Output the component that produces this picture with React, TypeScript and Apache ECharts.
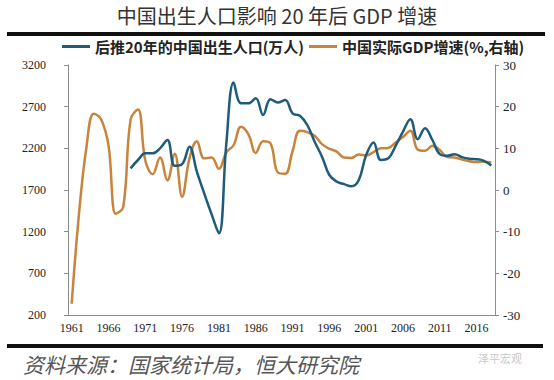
import React, { useEffect, useRef } from "react";
import * as echarts from "echarts";

const years: string[] = [];
for (let y = 1961; y <= 2018; y++) years.push(String(y));

const titleText = "中国出生人口影响 20 年后 GDP 增速";
const sourceText = "资料来源：国家统计局，恒大研究院";
const watermarkText = "泽平宏观";
const birthName = "后推20年的中国出生人口(万人)";
const gdpName = "中国实际GDP增速(%,右轴)";

// 1969–2018 (births of 1949–1998 shifted 20 years)
const birthValues: number[] = [
  1960, 2060, 2140, 2140, 2200, 2300, 1990, 2010, 2220, 1920,
  1660, 1410, 1180, 2250, 2990, 2740, 2740, 2800, 2600, 2790,
  2750, 2780, 2620, 2590, 2480, 2280, 2100, 1880, 1800, 1770,
  1745, 1820, 2120, 2270, 2060, 2080, 2230, 2400, 2550, 2310,
  2440, 2300, 2130, 2110, 2130, 2095, 2075, 2070, 2050, 1995,
];
const birthStartYear = 1969;

// 1961–2018
const gdpValues: number[] = [
  -27.3, -5.6, 10.2, 18.3, 17.0, 10.7, -5.7, -4.1, 16.9, 19.3,
  7.1, 3.8, 7.8, 2.3, 8.7, -1.6, 7.6, 11.7, 7.6, 7.8,
  5.1, 9.0, 10.8, 15.2, 13.4, 8.9, 11.7, 11.2, 4.2, 3.9,
  9.3, 14.2, 13.9, 13.0, 11.0, 9.9, 9.2, 7.8, 7.7, 8.5,
  8.3, 9.1, 10.0, 10.1, 11.4, 12.7, 14.2, 9.7, 9.4, 10.6,
  9.6, 7.9, 7.8, 7.3, 6.9, 6.7, 6.8, 6.6,
];

export default function App() {
  const ref = useRef<HTMLDivElement>(null);
  useEffect(() => {
    if (!ref.current) return;
    const chart = echarts.init(ref.current, undefined, { renderer: "svg" });
    const offset = birthStartYear - 1961;
    const birthSeries: (number | null)[] = years.map((_, i) =>
      i >= offset && i - offset < birthValues.length ? birthValues[i - offset] : null
    );
    const axisLineStyle = { color: "#8c8c8c", width: 1 };
    const labelStyle = { fontFamily: "Liberation Serif", color: "#222" };
    chart.setOption({
      animation: false,
      backgroundColor: "#ffffff",
      grid: { left: 68, right: 59, top: 65, bottom: 65 },
      legend: {
        left: 62,
        top: 38,
        padding: 0,
        itemWidth: 28,
        itemHeight: 3,
        itemGap: 5,
        icon: "rect",
        textStyle: {
          fontFamily: "Noto Sans CJK SC",
          fontWeight: "bold",
          fontSize: 15,
          lineHeight: 17,
          color: "#222",
        },
        data: [birthName, gdpName],
      },
      xAxis: {
        type: "category",
        data: years,
        boundaryGap: true,
        axisLine: { onZero: false, lineStyle: axisLineStyle },
        axisTick: { interval: 4, length: 4, lineStyle: axisLineStyle },
        axisLabel: { interval: 4, fontSize: 12, margin: 7, ...labelStyle },
        splitLine: { show: false },
      },
      yAxis: [
        {
          type: "value",
          min: 200,
          max: 3200,
          interval: 500,
          axisLine: { show: true, lineStyle: axisLineStyle },
          axisTick: { show: true, length: 4, lineStyle: axisLineStyle },
          axisLabel: {
            fontSize: 12,
            margin: 22,
            formatter: (v: number) => String(v),
            ...labelStyle,
          },
          splitLine: { show: false },
        },
        {
          type: "value",
          min: -30,
          max: 30,
          interval: 10,
          position: "right",
          axisLine: { show: true, lineStyle: axisLineStyle },
          axisTick: { show: true, length: 4, lineStyle: axisLineStyle },
          axisLabel: {
            fontSize: 13,
            margin: 8,
            formatter: (v: number) => String(v),
            ...labelStyle,
          },
          splitLine: { show: false },
        },
      ],
      series: [
        {
          name: birthName,
          type: "line",
          yAxisIndex: 0,
          data: birthSeries,
          smooth: 0.4,
          showSymbol: false,
          symbol: "none",
          lineStyle: { color: "#1f5c7c", width: 2.5 },
          itemStyle: { color: "#1f5c7c" },
          z: 3,
        },
        {
          name: gdpName,
          type: "line",
          yAxisIndex: 1,
          data: gdpValues,
          smooth: 0.4,
          showSymbol: false,
          symbol: "none",
          lineStyle: { color: "#c8843d", width: 2.5 },
          itemStyle: { color: "#c8843d" },
          z: 2,
        },
      ],
      graphic: [
        {
          type: "text",
          left: "center",
          top: 5,
          style: {
            text: titleText,
            fontFamily: "Noto Sans CJK SC",
            fontSize: 20,
            fill: "#333",
          },
        },
        {
          type: "rect",
          shape: { x: 7, y: 32, width: 538, height: 4 },
          style: { fill: "#111" },
        },
        {
          type: "rect",
          shape: { x: 7, y: 344, width: 536, height: 4 },
          style: { fill: "#111" },
        },
        {
          type: "text",
          x: 23,
          y: 353,
          style: {
            text: sourceText,
            fontFamily: "Noto Sans CJK SC",
            fontStyle: "italic",
            fontSize: 21,
            fill: "#555",
          },
        },
        {
          type: "text",
          x: 478,
          y: 352,
          style: {
            text: watermarkText,
            fontFamily: "Noto Sans CJK SC",
            fontSize: 11,
            fill: "#c8c8c8",
          },
        },
      ],
    });
    return () => chart.dispose();
  }, []);
  return (
    <div
      ref={ref}
      style={{ position: "fixed", left: 0, top: 0, width: 554, height: 380, background: "#fff" }}
    />
  );
}
